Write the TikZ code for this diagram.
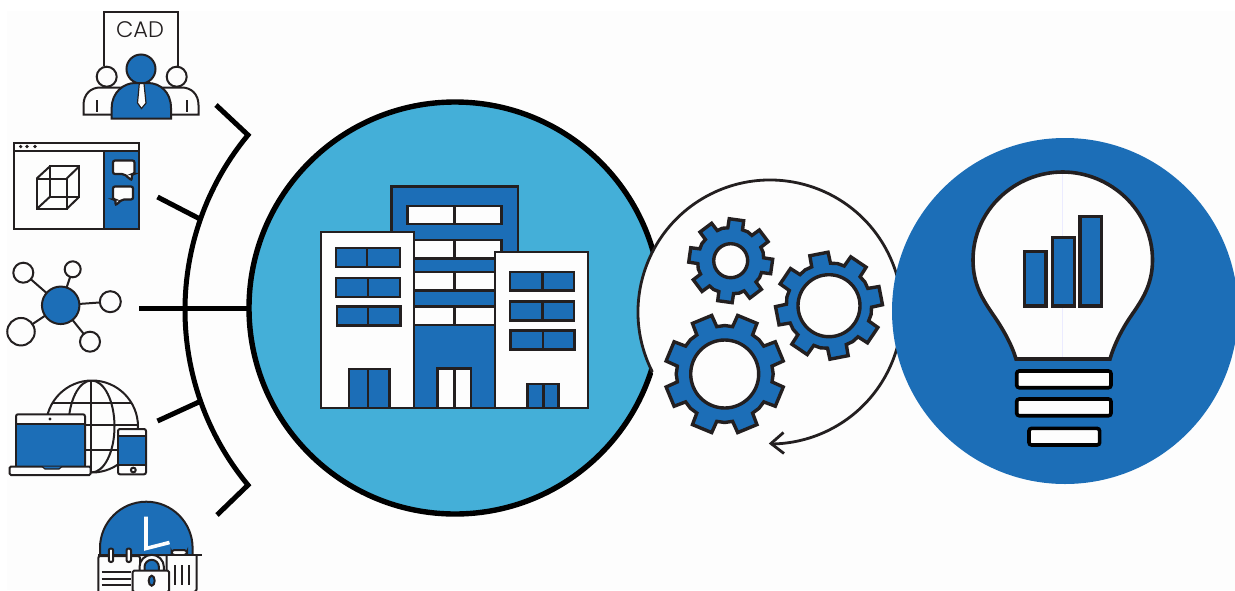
\documentclass[tikz,border=0pt]{standalone}
\usepackage{fontspec}
\newfontfamily\cadfont{Poppins Light}
\definecolor{ink}{HTML}{231F20}
\definecolor{deep}{HTML}{1C6EB7}
\definecolor{sky}{HTML}{44AFD8}
\definecolor{paper}{HTML}{FDFDFD}
\tikzset{
  ic/.style={draw=ink,line width=2},
  icb/.style={ic,fill=deep},
  icw/.style={ic,fill=paper},
  bld/.style={draw=ink,line width=2.4},
  stub/.style={draw=black,line width=5},
  bulbline/.style={draw=ink,line width=3.6,fill=paper},
  barline/.style={draw=ink,line width=3.2,fill=deep},
  baseline/.style={draw=black,line width=3.6,fill=paper,rounded corners=2.5},
  gearline/.style={draw=ink,line width=3.4,fill=deep},
  holeline/.style={draw=ink,line width=3.4,fill=paper},
  sat/.style={circle,draw=ink,line width=2,fill=paper,inner sep=0,outer sep=0},
}
% window: x1,y1,x2,y2,divider,fill
\newcommand{\wnd}[6]{%
  \filldraw[bld,fill=#6] (#1,#2) rectangle (#3,#4);
  \draw[bld] (#5,#2) -- (#5,#4);}
% gear: cx,cy,root,tip,hole,offset
\newcommand{\mygear}[6]{%
  \begin{scope}[shift={(#1,#2)}]
    \draw[gearline,line join=miter] (#6-13:#3)
      \foreach \k in {0,...,7}{
        -- (#6+45*\k-13:#3) -- (#6+45*\k-10:#4) -- (#6+45*\k+10:#4) -- (#6+45*\k+13:#3) -- (#6+45*\k+22.5:#3+0.5)
      } -- cycle;
    \draw[holeline] (0,0) circle[radius=#5];
  \end{scope}}
\begin{document}
\begin{tikzpicture}[x=1pt,y=-1pt,line cap=butt]
\useasboundingbox (0,0) rectangle (1235,590);
\fill[white] (0,0) rectangle (1235,590);
\fill[paper] (7,11) rectangle (1235,590);

% central circle
\node[circle,draw=black,line width=5.4,fill=sky,minimum size=412,inner sep=0,outer sep=0] (hub) at (455,308) {};

% bracket
\coordinate (t1) at (216,105);
\coordinate (k1) at (248,135);
\coordinate (t2) at (157.5,197);
\coordinate (k2) at (200,219);
\coordinate (t3) at (139,308);
\coordinate (t4) at (157.5,421);
\coordinate (k4) at (200,401.5);
\coordinate (t5) at (217,515);
\coordinate (k5) at (248,485);
\draw[stub,line width=5,line join=miter] (t1) -- (k1) arc[start angle=219.6,end angle=140.4,radius=274.6] -- (t5);
\draw[stub] (t2) -- (k2);
\draw[stub] (t3) -- (hub.west);
\draw[stub] (t4) -- (k4);

% white gear disc and its ring arrow
\node[circle,fill=paper,minimum size=264,inner sep=0,outer sep=0] (ring) at (770,312) {};
\coordinate (tip) at (771,443.5);
\coordinate (ha) at (783.5,432.5);
\coordinate (hb) at (784,453.5);
\draw[draw=ink,line width=2.8] (ring.center) ++(153:132) arc[start angle=153,end angle=449.5,radius=132];
\draw[draw=ink,line width=2.8,line join=miter] (ha) -- (tip) -- (hb);

% gears
\mygear{730.7}{260.7}{33}{42}{17}{-82}
\mygear{829}{305.7}{42.5}{53.5}{31}{-101}
\mygear{724.7}{374}{48}{60}{34}{-67.5}

% lightbulb disc
\node[circle,fill=deep,minimum size=346,inner sep=0,outer sep=0] (idea) at (1065,311) {};

% building
\filldraw[bld,fill=deep] (391.5,186.5) rectangle (518,408);
\wnd{407.5}{206}{501.5}{224}{454.5}{paper}
\wnd{407.5}{240}{501.5}{258.3}{454.5}{paper}
\wnd{407.5}{272}{501.5}{290.5}{454.5}{paper}
\wnd{407.5}{306.5}{501.5}{325}{454.5}{paper}
\wnd{437.5}{368.5}{471}{408}{454.5}{paper}
\filldraw[bld,fill=paper] (321,232) rectangle (414,408);
\wnd{336}{248}{400}{267}{367}{deep}
\wnd{336}{278}{400}{297}{368}{deep}
\wnd{337}{306.5}{400.5}{325.5}{368}{deep}
\wnd{349}{369}{389.5}{408}{368}{deep}
\filldraw[bld,fill=paper] (495,252) rectangle (588,408);
\wnd{510}{272}{574}{290.5}{542.5}{deep}
\wnd{510}{301.5}{574}{320.5}{542.5}{deep}
\wnd{510.5}{330.5}{574.5}{349.5}{543}{deep}
\wnd{527.5}{384}{558.5}{408}{543.5}{deep}

% bulb
\filldraw[bulbline,line join=miter] (1016,359)
  .. controls (1012,345) and (1003,329) .. (994,316)
  .. controls (983,300) and (973,285) .. (973,260)
  .. controls (973,210) and (1015,172) .. (1062.7,172)
  .. controls (1110,172) and (1152.5,210) .. (1152.5,260)
  .. controls (1152.5,285) and (1142,300) .. (1131,316)
  .. controls (1122,329) and (1114,345) .. (1110,359) -- cycle;
\draw[draw=blue!8,line width=0.6] (1062.7,174) -- (1062.7,357);
\filldraw[barline] (1024.8,251.3) rectangle (1046,306);
\filldraw[barline] (1052.8,237.3) rectangle (1074.2,306);
\filldraw[barline] (1080,216.3) rectangle (1101.4,306);
\filldraw[baseline] (1016.7,371) rectangle (1111,387.7);
\filldraw[baseline] (1016.7,399) rectangle (1111,415.7);
\filldraw[baseline] (1029,428.4) rectangle (1099.6,445);

% CAD people
\draw[ic] (103.5,66) -- (103.5,12) -- (177.5,12) -- (177.5,66);
\node[inner sep=0,text=ink,font=\cadfont\fontsize{22.5}{22.5}\selectfont] (cad) at (140,30) {CAD};
\filldraw[icw] (83.5,114.5) -- (83.5,105) .. controls (83.5,94) and (91,87.5) .. (100,87.5) -- (125,87.5) -- (125,114.5) -- cycle;
\filldraw[icw] (198.5,114.5) -- (198.5,105) .. controls (198.5,94) and (191,87.5) .. (182,87.5) -- (157,87.5) -- (157,114.5) -- cycle;
\draw[ic] (96.7,100) -- (96.7,112);
\draw[ic] (187.3,100) -- (187.3,112);
\filldraw[icw] (106.7,76.7) circle[radius=10];
\filldraw[icw] (176.7,76.7) circle[radius=10];
\filldraw[icb] (141,69) circle[radius=14.5];
\filldraw[icb] (111.7,118.5) -- (111.7,108) .. controls (111.7,92) and (124,83) .. (135,83) -- (148,83) .. controls (160,83) and (171,92) .. (171,108) -- (171,118.5) -- cycle;
\filldraw[icw,line width=1.2] (139.3,83.5) -- (144,83.5) -- (146,103) -- (141.5,108.5) -- (137.5,103) -- cycle;

% window icon
\filldraw[icw] (13.5,143) rectangle (139.3,229.3);
\filldraw[icb] (104,150.7) rectangle (139.3,229.3);
\draw[ic] (13.5,150.7) -- (139.3,150.7);
\foreach \dx in {20.7,27,35}{\fill[ink] (\dx,146.5) circle[radius=1.8];}
\draw[ic] (36.7,178.5) rectangle (66.7,209);
\draw[ic] (50,166.3) rectangle (79.3,196.7);
\draw[ic] (36.7,178.5) -- (50,166.3) (66.7,178.5) -- (79.3,166.3) (36.7,209) -- (50,196.7) (66.7,209) -- (79.3,196.7);
\filldraw[ic,fill=paper,line width=2.2,rounded corners=2] (113,160.5) -- (134.5,160.5) -- (134.5,174) -- (132,174) -- (131.7,180.5) -- (124,174) -- (113,174) -- cycle;
\filldraw[ic,fill=paper,line width=2.2,rounded corners=2] (113,186.5) -- (133,186.5) -- (133,199.5) -- (122,199.5) -- (115.5,205.5) -- (115.5,199.5) -- (113,199.5) -- cycle;

% network
\node[sat,minimum size=20] (na) at (23.3,272.7) {};
\node[sat,minimum size=16] (nb) at (72.7,269.3) {};
\node[sat,minimum size=21] (nc) at (110.3,301.7) {};
\node[sat,minimum size=27.5] (nd) at (21,331.7) {};
\node[sat,minimum size=20] (ne) at (90,341.7) {};
\node[circle,draw=ink,line width=2,fill=deep,minimum size=37.5,inner sep=0,outer sep=0] (nh) at (60.7,305.3) {};
\draw[ic] (nh) -- (na);
\draw[ic] (nh) -- (nb);
\draw[ic] (nh) -- (nc);
\draw[ic] (nh) -- (nd);
\draw[ic] (nh) -- (ne);

% globe and devices
\begin{scope}
  \clip (92,426.5) circle[radius=46];
  \draw[ic] (91,380) -- (91,473);
  \draw[ic] (91.5,426.5) ellipse[x radius=23,y radius=46];
  \draw[ic] (40,403) -- (140,403);
  \draw[ic] (40,425) -- (140,425);
  \draw[ic] (40,449.5) -- (140,449.5);
\end{scope}
\draw[ic] (92,426.5) circle[radius=46];
\filldraw[icw,rounded corners=2] (16,466.5) -- (16,414.3) -- (85,414.3) -- (85,466.5) -- cycle;
\filldraw[icb] (16,423.5) rectangle (85,466.5);
\fill[ink] (50,419) circle[radius=1.6];
\filldraw[icw,rounded corners=1.5] (9.5,466.5) rectangle (90.7,475);
\filldraw[ink,fill=deep,line width=1.2] (42,466.5) -- (45,469) -- (59,469) -- (62,466.5);
\filldraw[icw,rounded corners=2] (118,429) rectangle (146,474.3);
\filldraw[icb] (118,436) rectangle (146,465);
\draw[ic] (133.3,470) circle[radius=2.4];

% clock, calendar, lock, bin
\filldraw[icb] (100,555) -- (100,548) arc[start angle=180,end angle=360,radius=46.3] -- (192.6,555) -- cycle;
\draw[draw=paper,line width=3.6,line join=miter] (146,516.5) -- (146,548.5) -- (169.5,542.5);
\draw[ic] (98.3,555) -- (201.7,555);
\filldraw[icw,rounded corners=2] (98.3,592) -- (98.3,556) -- (140,556) -- (140,592);
\filldraw[icw,rounded corners=2] (108.8,548.5) rectangle (113.2,562);
\filldraw[icw,rounded corners=2] (126.5,548.5) rectangle (131,562);
\draw[ic] (101.5,572.3) -- (131,572.3) (101.5,578.5) -- (131,578.5) (101.5,585) -- (131,585);
\filldraw[icw,rounded corners=3] (171.5,555) -- (171.5,550) -- (187,550) -- (187,555) -- cycle;
\filldraw[icw,rounded corners=3] (166.7,556) -- (166.7,592) -- (196.7,592) -- (196.7,556);
\draw[ic] (174.5,565) -- (174.5,585) (181.7,565) -- (181.7,585) (188.5,565) -- (188.5,585);
\filldraw[icw] (139.5,572) -- (139.5,567) arc[start angle=180,end angle=360,radius=12.2] -- (163.9,572) -- cycle;
\filldraw[icb] (144.5,572) -- (144.5,567) arc[start angle=180,end angle=360,radius=7.2] -- (158.9,572) -- cycle;
\filldraw[icw,rounded corners=1.5] (132.7,570.5) rectangle (169,592);
\filldraw[icb] (151.7,580.7) ellipse[x radius=3,y radius=5];
\end{tikzpicture}
\end{document}
